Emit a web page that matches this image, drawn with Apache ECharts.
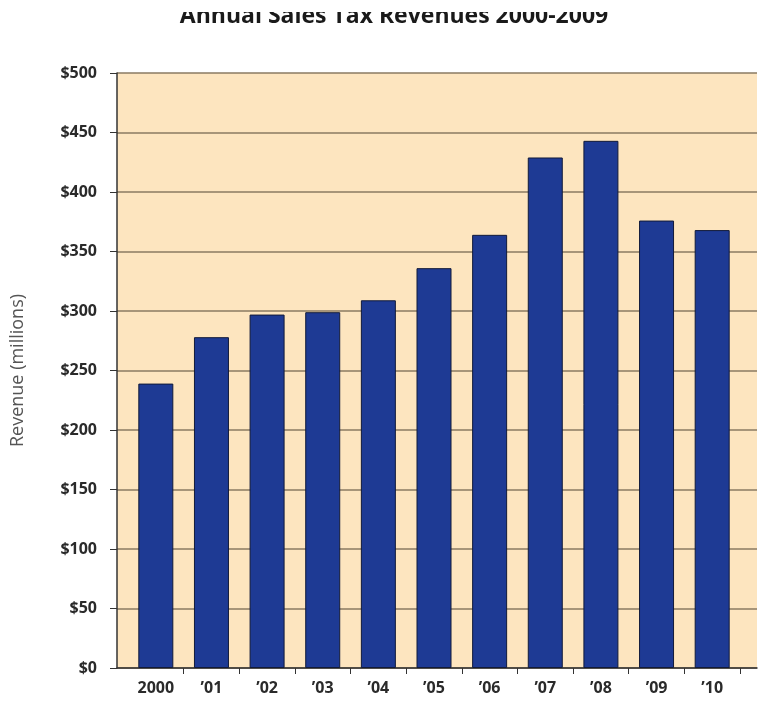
<!DOCTYPE html>
<html>
<head>
<meta charset="utf-8">
<title>Annual Sales Tax Revenues</title>
<script src="https://cdn.jsdelivr.net/npm/echarts@6/dist/echarts.min.js"></script>
<style>
	html, body { margin: 0; padding: 0; background: #fff; }
	#chart { width: 758px; height: 712px; }
</style>
</head>
<body>
<div id="chart"></div>
<script>
	// data
	var years = ['2000', '\u201901', '\u201902', '\u201903', '\u201904', '\u201905', '\u201906', '\u201907', '\u201908', '\u201909', '\u201910'];
	var revenue = [239, 278, 297, 299, 309, 336, 364, 429, 443, 376, 368];
	var yTicks = [0, 50, 100, 150, 200, 250, 300, 350, 400, 450, 500];

	var axisColor = '#333';
	var labelFont = { color: '#2a2a2a', fontSize: 16, fontWeight: 'bold' };

	var chart = echarts.init(document.getElementById('chart'));
	chart.setOption({
		animation: false,
		textStyle: { fontFamily: '"Open Sans", "DejaVu Sans", sans-serif' },
		title: {
			text: 'Annual Sales Tax Revenues 2000-2009',
			left: 389,
			textAlign: 'center',
			top: 0,
			textStyle: { fontSize: 23, fontWeight: 'bold', color: '#1a1a1a' }
		},
		// the scan cuts the top of the title off
		graphic: [{
			type: 'rect',
			z: 100,
			shape: { x: 0, y: 0, width: 758, height: 12 },
			style: { fill: '#fff' }
		}],
		grid: [
			// plot frame: background, gridlines, y axis
			{ left: 117, right: 1, top: 73, bottom: 44, show: true, backgroundColor: '#fde5bf', borderWidth: 0 },
			// the bars sit a little inside the frame
			{ left: 128, right: 18, top: 73, bottom: 44 }
		],
		xAxis: [{
			gridIndex: 0,
			type: 'value',
			min: 0,
			max: 1,
			axisLine: { show: true, onZero: false, lineStyle: { color: axisColor, width: 1.5 } },
			axisTick: { show: false },
			axisLabel: { show: false },
			splitLine: { show: false }
		}, {
			gridIndex: 1,
			type: 'category',
			data: years,
			axisLine: { show: false },
			axisTick: {
				show: true,
				length: 6,
				interval: function (i) { return i > 0; },
				lineStyle: { color: axisColor }
			},
			axisLabel: Object.assign({ margin: 12 }, labelFont)
		}],
		yAxis: [{
			gridIndex: 0,
			type: 'value',
			min: yTicks[0],
			max: yTicks[yTicks.length - 1],
			interval: yTicks[1] - yTicks[0],
			name: 'Revenue (millions)',
			nameLocation: 'middle',
			nameGap: 90,
			nameTextStyle: { color: '#555', fontSize: 18 },
			axisLine: { show: true, lineStyle: { color: axisColor, width: 1.5 } },
			axisTick: { show: true, length: 7, lineStyle: { color: axisColor } },
			axisLabel: Object.assign({
				margin: 20,
				formatter: function (v) { return '$' + v; }
			}, labelFont),
			splitLine: { lineStyle: { color: '#8a7a62', width: 1.5 } }
		}, {
			gridIndex: 1,
			type: 'value',
			min: yTicks[0],
			max: yTicks[yTicks.length - 1],
			show: false
		}],
		series: [{
			type: 'bar',
			xAxisIndex: 1,
			yAxisIndex: 1,
			data: revenue,
			barWidth: 35,
			itemStyle: {
				color: '#1e3a94',
				borderColor: '#111a3a',
				borderWidth: 1
			}
		}]
	});
</script>
</body>
</html>
